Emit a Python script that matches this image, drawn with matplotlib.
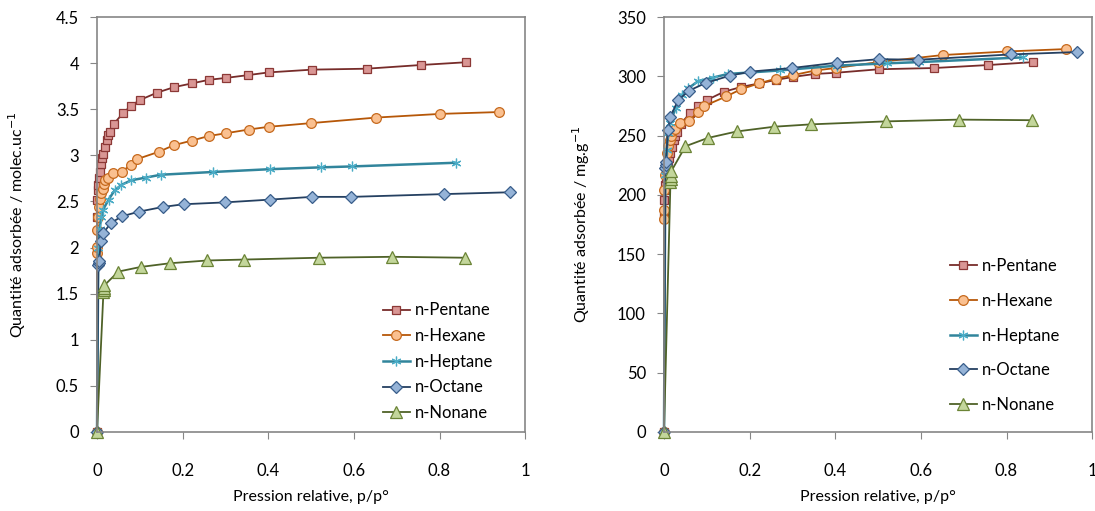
import numpy as np
import matplotlib
matplotlib.use("Agg")
import matplotlib.pyplot as plt
from matplotlib.ticker import FormatStrFormatter

plt.rcParams['font.family'] = ['Lato', 'DejaVu Sans']

# relative pressure p/p0 for each alkane
x_pent = [0, 0.0005, 0.001, 0.002, 0.003, 0.004, 0.006, 0.009, 0.012, 0.015, 0.019, 0.023, 0.026, 0.030,
          0.039, 0.061, 0.080, 0.100, 0.140, 0.180, 0.221, 0.262, 0.301, 0.352, 0.401, 0.503, 0.630, 0.756, 0.862]
x_hex = [0, 0.0002, 0.0005, 0.001, 0.002, 0.004, 0.006, 0.010, 0.014, 0.016, 0.019, 0.026, 0.038, 0.058,
         0.079, 0.094, 0.145, 0.179, 0.221, 0.261, 0.301, 0.354, 0.401, 0.500, 0.652, 0.802, 0.939]
x_hept = [0, 0.003, 0.006, 0.010, 0.014, 0.027, 0.041, 0.057, 0.080, 0.115, 0.149, 0.271, 0.403, 0.522,
          0.595, 0.838]
x_oct = [0, 0.003, 0.004, 0.005, 0.009, 0.015, 0.033, 0.059, 0.098, 0.153, 0.202, 0.298, 0.403, 0.502,
         0.594, 0.810, 0.965]
x_non = [0, 0.015, 0.016, 0.016, 0.017, 0.050, 0.102, 0.170, 0.257, 0.343, 0.518, 0.690, 0.860]

# adsorbed quantity, molec/uc
q_pent = [0, 2.33, 2.52, 2.62, 2.68, 2.75, 2.82, 2.91, 2.97, 3.02, 3.09, 3.17, 3.22, 3.25,
          3.34, 3.46, 3.54, 3.60, 3.68, 3.74, 3.78, 3.82, 3.84, 3.87, 3.90, 3.93, 3.94, 3.98, 4.01]
q_hex = [0, 1.94, 2.01, 2.19, 2.33, 2.44, 2.53, 2.59, 2.64, 2.69, 2.73, 2.75, 2.81, 2.82,
         2.90, 2.96, 3.04, 3.11, 3.16, 3.21, 3.24, 3.28, 3.31, 3.35, 3.41, 3.45, 3.47]
q_hept = [0, 2.00, 2.20, 2.33, 2.41, 2.52, 2.62, 2.68, 2.73, 2.76, 2.79, 2.82, 2.85, 2.87, 2.88, 2.92]
q_oct = [0, 1.81, 1.83, 1.85, 2.07, 2.16, 2.27, 2.34, 2.39, 2.44, 2.47, 2.49, 2.52, 2.55, 2.55, 2.58, 2.60]
q_non = [0, 1.52, 1.54, 1.56, 1.59, 1.74, 1.79, 1.83, 1.86, 1.87, 1.89, 1.90, 1.89]

# adsorbed quantity, mg/g
m_pent = [0, 181, 196, 204, 208, 214, 219, 226, 231, 235, 240, 246, 250, 253,
          260, 269, 275, 280, 287, 291, 294, 297, 299.5, 302, 303, 306, 307, 309.5, 312]
m_hex = [0, 180, 187, 204, 217, 227, 235, 241, 246, 250, 254, 256, 261, 262,
         270, 275, 283, 289, 294, 298, 301, 305, 307, 312, 318, 321, 323]
m_hept = [0, 217, 238, 252, 261, 273, 284, 290, 296, 299, 302, 305, 309, 311, 312, 316]
m_oct = [0, 223, 225, 228, 255, 266, 280, 288, 294.5, 300.5, 304, 307, 311.5, 314.5, 314, 318.5, 320.5]
m_non = [0, 210.5, 213, 216, 220, 241, 248, 253.5, 257.5, 259.5, 262, 263.5, 263]

names = ['n-Pentane', 'n-Hexane', 'n-Heptane', 'n-Octane', 'n-Nonane']
xs = [x_pent, x_hex, x_hept, x_oct, x_non]
left_ys = [q_pent, q_hex, q_hept, q_oct, q_non]
right_ys = [m_pent, m_hex, m_hept, m_oct, m_non]

styles = [
    dict(color='#772C2A', marker='s', mfc='#D99694', mec='#8C3836', ms=6),
    dict(color='#B65708', marker='o', mfc='#FAC090', mec='#C66A1E', ms=7),
    dict(color='#31859C', marker=(6, 2, 0), mfc='#4BACC6', mec='#4BACC6', ms=7, lw=1.8),
    dict(color='#254061', marker='D', mfc='#95B3D7', mec='#385D8A', ms=6),
    dict(color='#4F6228', marker='^', mfc='#C3D69B', mec='#6B8436', ms=8),
]

fig = plt.figure(figsize=(10.95, 5.11), dpi=100)
ax1 = fig.add_axes([0.0886, 0.1546, 0.391, 0.812])
ax2 = fig.add_axes([0.6064, 0.1546, 0.391, 0.812])


def draw(ax, ys, ymax, ystep, ylabel, legend_spacing, anchor, ylabelpad):
    for x, y, name, st in zip(xs, ys, names, styles):
        st = dict(st)
        lw = st.pop('lw', 1.3)
        ax.plot(x, y, label=name, lw=lw, mew=0.9, clip_on=False, **st)
    ax.set_xlim(0, 1)
    ax.set_ylim(0, ymax)
    ax.set_xticks(np.arange(0, 1.01, 0.2))
    ax.set_yticks(np.arange(0, ymax + ystep / 2, ystep))
    ax.xaxis.set_major_formatter(FormatStrFormatter('%g'))
    ax.yaxis.set_major_formatter(FormatStrFormatter('%g'))
    ax.tick_params(direction='out', length=5, color='#868686', labelsize=12)
    ax.tick_params(axis='x', pad=17)
    ax.tick_params(axis='y', pad=8)
    for s in ax.spines.values():
        s.set_color('#868686')
        s.set_linewidth(1.2)
    ax.set_xlabel('Pression relative, p/p°', fontsize=11.5, labelpad=8)
    ax.set_ylabel(ylabel, fontsize=11.5, labelpad=ylabelpad)
    ax.legend(loc='lower right', frameon=False, fontsize=12, handlelength=1.6,
              handletextpad=0.3, labelspacing=legend_spacing, bbox_to_anchor=anchor)


draw(ax1, left_ys, 4.5, 0.5, 'Quantité adsorbée / molec.uc$^{-1}$', 0.58, (0.96, -0.01), 20)
draw(ax2, right_ys, 350, 50, 'Quantité adsorbée / mg.g$^{-1}$', 1.12, (0.96, 0.01), 18)

fig.savefig('out.png', dpi=100)
